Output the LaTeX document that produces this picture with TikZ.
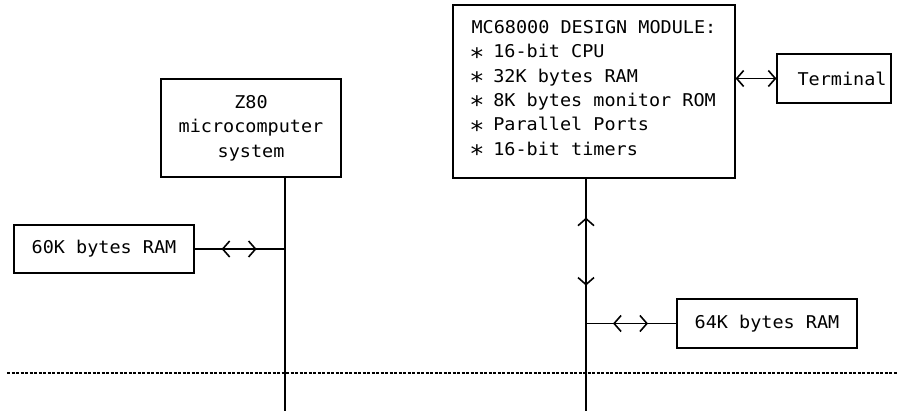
\documentclass[tikz,border=0pt]{standalone}
\usepackage{fontspec}
\newfontfamily\plotfont[FakeStretch=1.05]{DejaVu Sans Mono}
\usetikzlibrary{arrows.meta,decorations.markings}
\newcommand\starmark{\makebox[0.6em][c]{\raisebox{-0.42em}{\fontsize{24}{24}\selectfont *}}}
\tikzset{
  barb/.tip={Straight Barb[length=7pt,width=16pt,line width=1.6pt]},
  box/.style={draw, line width=1.2pt, inner sep=0pt, font=\plotfont\fontsize{17.6}{24.3}\selectfont},
  wire/.style={line width=1.1pt},
  hmid/.style={postaction={decorate, decoration={markings,
      mark=at position 27pt with {\arrowreversed{barb}},
      mark=at position 62pt with {\arrow{barb}}}}},
  vmid/.style={postaction={decorate, decoration={markings,
      mark=at position 39pt with {\arrowreversed{barb}},
      mark=at position 107pt with {\arrow{barb}}}}},
  dotline/.style={line width=1.3pt, dash pattern=on 3pt off 1.5pt}
}
\begin{document}
\begin{tikzpicture}[x=1pt,y=-1pt]
\useasboundingbox (0,0) rectangle (901,412);
\fill[white] (0,0) rectangle (901,412);

\node[box, minimum width=180pt, minimum height=98pt, align=center] (z80) at (251,128)
  {Z80\\microcomputer\\system};
\node[box, minimum width=282pt, minimum height=173pt, align=left] (mc) at (594,91.5)
  {MC68000 DESIGN MODULE:\\
   \starmark{} 16-bit CPU\\
   \starmark{} 32K bytes RAM\\
   \starmark{} 8K bytes monitor ROM\\
   \starmark{} Parallel Ports\\
   \starmark{} 16-bit timers};
\node[box, minimum width=114pt, minimum height=49pt] (term) at (834,78.5)
  {\hspace*{16pt}Terminal};
\node[box, minimum width=180pt, minimum height=48pt] (ram60) at (104,249)
  {60K bytes RAM};
\node[box, minimum width=180pt, minimum height=49pt] (ram64) at (767,323.5)
  {64K bytes RAM};

\coordinate (zbot) at (285,411);
\coordinate (mbot) at (586,411);
\coordinate (dl) at (7,373);
\coordinate (dr) at (898,373);

\draw[wire] (z80.south -| zbot) -- (zbot);
\draw[wire, hmid] (ram60.east) -- (ram60.east -| zbot);
\draw[wire, vmid] (mc.south -| mbot) -- (mbot);
\draw[wire, hmid] (ram64.west -| mbot) -- (ram64.west);
\draw[wire, {barb}-{barb}] (term.west -| mc.east) -- (term.west);
\draw[dotline] (dl) -- (dr);
\end{tikzpicture}
\end{document}
